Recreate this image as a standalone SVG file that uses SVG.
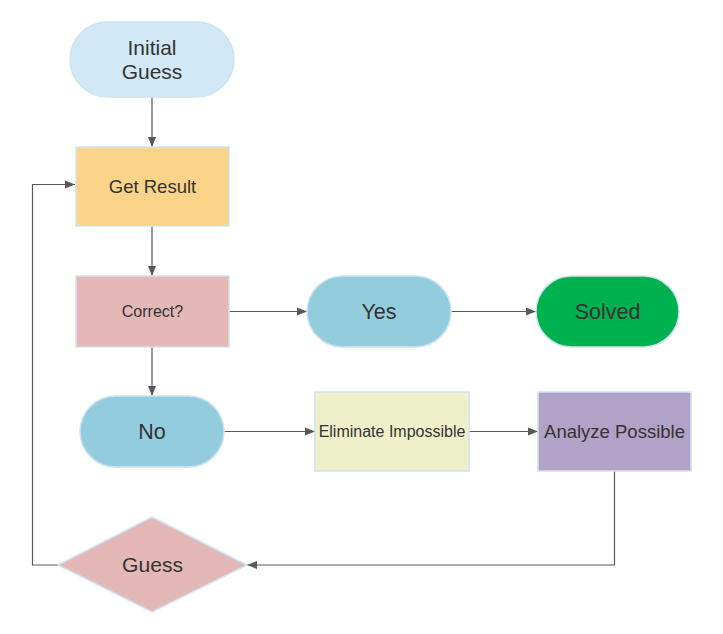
<svg xmlns="http://www.w3.org/2000/svg" width="723" height="634" viewBox="0 0 723 634">
<style>
.n{stroke:#cfe3f0;stroke-width:1.5}
.t{font-family:"Liberation Sans",Arial,sans-serif;fill:#333333;text-anchor:middle;dominant-baseline:central}
.c{fill:none;stroke:#595959;stroke-width:1.2}
</style>
<defs>
<marker id="a" viewBox="0 0 10 10" refX="10" refY="5" markerWidth="10" markerHeight="10" markerUnits="userSpaceOnUse" orient="auto">
<path d="M0,1 L10,5 L0,9 Z" fill="#595959"/>
</marker>
</defs>
<rect width="723" height="634" fill="#ffffff"/>
<g id="connectors">
<path class="c" d="M152,97 V147" marker-end="url(#a)"/>
<path class="c" d="M152,226 V276" marker-end="url(#a)"/>
<path class="c" d="M229,311.5 H307" marker-end="url(#a)"/>
<path class="c" d="M451,311.5 H536" marker-end="url(#a)"/>
<path class="c" d="M152,347 V396" marker-end="url(#a)"/>
<path class="c" d="M224,431.5 H315" marker-end="url(#a)"/>
<path class="c" d="M469,431.5 H538" marker-end="url(#a)"/>
<path class="c" d="M614.5,471 V565 H247" marker-end="url(#a)"/>
<path class="c" d="M58,565 H32.5 V184.5 H75" marker-end="url(#a)"/>
</g>
<g id="initial-guess">
<rect class="n" x="70" y="22" width="164" height="75" rx="37.5" fill="#d1e9f6"/>
<text class="t" x="152" y="47" font-size="21">Initial</text>
<text class="t" x="152" y="71" font-size="21">Guess</text>
</g>
<g id="get-result">
<rect class="n" x="76" y="147" width="153" height="79" fill="#fbd489"/>
<text class="t" x="152.5" y="186.5" font-size="18.5">Get Result</text>
</g>
<g id="correct">
<rect class="n" x="76" y="276" width="153" height="71" fill="#e5b8b8"/>
<text class="t" x="152.5" y="311.5" font-size="16">Correct?</text>
</g>
<g id="yes">
<rect class="n" x="307" y="276" width="144" height="71" rx="35.5" fill="#93cddd"/>
<text class="t" x="379" y="311.5" font-size="21.5">Yes</text>
</g>
<g id="solved">
<rect class="n" x="536" y="276" width="143" height="71" rx="35.5" fill="#00b14f"/>
<text class="t" x="607.5" y="311.5" font-size="21.5">Solved</text>
</g>
<g id="no">
<rect class="n" x="80" y="396" width="144" height="71" rx="35.5" fill="#93cddd"/>
<text class="t" x="152" y="431.5" font-size="21.5">No</text>
</g>
<g id="eliminate-impossible">
<rect class="n" x="315" y="392" width="154" height="79" fill="#eef0ca"/>
<text class="t" x="392" y="431.5" font-size="16">Eliminate Impossible</text>
</g>
<g id="analyze-possible">
<rect class="n" x="538" y="392" width="153" height="79" fill="#b1a2c8"/>
<text class="t" x="614.5" y="431.5" font-size="18.5">Analyze Possible</text>
</g>
<g id="guess">
<polygon class="n" points="152,517 247,565 152,612 58,565" fill="#e5b8b8"/>
<text class="t" x="152.5" y="564.5" font-size="21" textLength="61" lengthAdjust="spacingAndGlyphs">Guess</text>
</g>
</svg>
